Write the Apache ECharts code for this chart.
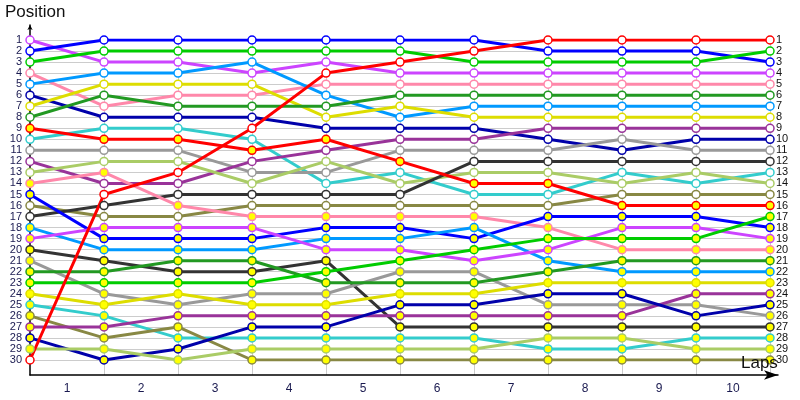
<!DOCTYPE html>
<html>
<head>
<meta charset="utf-8">
<script src="https://cdn.jsdelivr.net/npm/echarts@6/dist/echarts.min.js"></script>
<style>
html,body{margin:0;padding:0;background:#fff;}
#chart{width:800px;height:400px;}
</style>
</head>
<body>
<div id="chart"></div>
<script>
// Laps (x values) and lap labels
const laps = [0, 1, 2, 3, 4, 5, 6, 7, 8, 9, 10];
const lapLabels = ['1', '2', '3', '4', '5', '6', '7', '8', '9', '10'];

// Drivers, group A (white markers)
const violetA     = [1, 3, 3, 4, 3, 4, 4, 4, 4, 4, 4];
const blueA       = [2, 1, 1, 1, 1, 1, 1, 2, 2, 2, 3];
const greenA      = [3, 2, 2, 2, 2, 2, 3, 3, 3, 3, 2];
const pinkA       = [4, 7, 6, 6, 5, 5, 5, 5, 5, 5, 5];
const lightBlueA  = [5, 4, 4, 3, 6, 8, 7, 7, 7, 7, 7];
const navyA       = [6, 8, 8, 8, 9, 9, 9, 10, 11, 10, 10];
const yellowA     = [7, 5, 5, 5, 8, 7, 8, 8, 8, 8, 8];
const darkGreenA  = [8, 6, 7, 7, 7, 6, 6, 6, 6, 6, 6];
const cyanA       = [10, 9, 9, 10, 14, 13, 15, 15, 13, 14, 13];
const grayA       = [11, 11, 11, 13, 13, 11, 11, 11, 10, 11, 11];
const darkPurpleA = [12, 14, 14, 12, 11, 10, 10, 9, 9, 9, 9];
const lightGreenA = [13, 12, 12, 14, 12, 14, 13, 13, 14, 13, 14];
const oliveA      = [16, 17, 17, 16, 16, 16, 16, 16, 15, 15, 15];
const blackA      = [17, 16, 15, 15, 15, 15, 12, 12, 12, 12, 12];
const redA        = [30, 15, 13, 9, 4, 3, 2, 1, 1, 1, 1];

// Drivers, group B (yellow markers)
const redB        = [9, 10, 10, 11, 10, 12, 14, 14, 16, 16, 16];
const pinkB       = [14, 13, 16, 17, 17, 17, 17, 18, 20, 20, 20];
const blueB       = [15, 19, 19, 19, 18, 18, 19, 17, 17, 17, 18];
const lightBlueB  = [18, 20, 20, 20, 19, 19, 18, 21, 22, 22, 22];
const violetB     = [19, 18, 18, 18, 20, 20, 21, 20, 18, 18, 19];
const blackB      = [20, 21, 22, 22, 21, 27, 27, 27, 27, 27, 27];
const grayB       = [21, 24, 25, 24, 24, 22, 22, 25, 25, 25, 26];
const darkGreenB  = [22, 22, 21, 21, 23, 23, 23, 22, 21, 21, 21];
const greenB      = [23, 23, 23, 23, 22, 21, 20, 19, 19, 19, 17];
const yellowB     = [24, 25, 24, 25, 25, 24, 24, 23, 23, 23, 23];
const cyanB       = [25, 26, 28, 28, 28, 28, 28, 29, 29, 28, 28];
const oliveB      = [26, 28, 27, 30, 30, 30, 30, 30, 30, 30, 30];
const darkPurpleB = [27, 27, 26, 26, 26, 26, 26, 26, 26, 24, 24];
const navyB       = [28, 30, 29, 27, 27, 25, 25, 24, 24, 26, 25];
const lightGreenB = [29, 29, 30, 29, 29, 29, 29, 28, 28, 29, 29];

const C = {
  red: '#ff0000', blue: '#0000ff', green: '#00cc00', violet: '#cc44ff',
  pink: '#ff88aa', darkGreen: '#229922', lightBlue: '#0099ff', yellow: '#dddd00',
  darkPurple: '#993399', navy: '#0000aa', gray: '#999999', black: '#333333',
  lightGreen: '#aacc66', cyan: '#33cccc', olive: '#888844'
};
const WHITE = '#ffffff', YEL = '#ffff00';

const drivers = [
  [violetA, C.violet, WHITE], [blueA, C.blue, WHITE], [greenA, C.green, WHITE],
  [pinkA, C.pink, WHITE], [lightBlueA, C.lightBlue, WHITE], [navyA, C.navy, WHITE],
  [yellowA, C.yellow, WHITE], [darkGreenA, C.darkGreen, WHITE], [cyanA, C.cyan, WHITE],
  [grayA, C.gray, WHITE], [darkPurpleA, C.darkPurple, WHITE], [lightGreenA, C.lightGreen, WHITE],
  [oliveA, C.olive, WHITE], [blackA, C.black, WHITE],
  [redB, C.red, YEL], [pinkB, C.pink, YEL], [blueB, C.blue, YEL],
  [lightBlueB, C.lightBlue, YEL], [violetB, C.violet, YEL], [blackB, C.black, YEL],
  [grayB, C.gray, YEL], [darkGreenB, C.darkGreen, YEL], [greenB, C.green, YEL],
  [yellowB, C.yellow, YEL], [cyanB, C.cyan, YEL], [oliveB, C.olive, YEL],
  [darkPurpleB, C.darkPurple, YEL], [navyB, C.navy, YEL], [lightGreenB, C.lightGreen, YEL],
  [redA, C.red, WHITE]
];

const FONT = 'Liberation Sans';

const series = drivers.map(([vals, col, fill]) => ({
  type: 'line',
  xAxisIndex: 0,
  yAxisIndex: 0,
  data: laps.map((l, i) => [l, vals[i]]),
  symbol: 'circle',
  symbolSize: 8,
  showAllSymbol: true,
  lineStyle: { color: col, width: 3 },
  itemStyle: { color: fill, borderColor: col, borderWidth: 1.5 },
  emphasis: { disabled: true },
  animation: false
}));

const chart = echarts.init(document.getElementById('chart'), null, { renderer: 'canvas' });
chart.setOption({
  backgroundColor: '#ffffff',
  animation: false,
  textStyle: { fontFamily: FONT },
  title: [
    { text: 'Position', left: 5, top: 4, padding: 0,
      textStyle: { fontFamily: FONT, fontSize: 17, fontWeight: 'normal', color: '#111111' } },
    { text: 'Laps', left: 741, top: 355, padding: 0,
      textStyle: { fontFamily: FONT, fontSize: 17, fontWeight: 'normal', color: '#111111' } }
  ],
  grid: [
    { left: 30, right: 30, top: 40, bottom: 40, outerBoundsMode: 'none', containLabel: false },
    { left: 30, right: 22, top: 40, bottom: 25, outerBoundsMode: 'none', containLabel: false },
    { left: 30, right: 22, top: 25, bottom: 25, outerBoundsMode: 'none', containLabel: false }
  ],
  xAxis: [
    { gridIndex: 0, type: 'value', min: 0, max: 10, interval: 1,
      axisLine: { show: false }, axisTick: { show: false }, axisLabel: { show: false },
      splitLine: { show: false } },
    { gridIndex: 0, type: 'category', data: lapLabels, boundaryGap: true, position: 'bottom', offset: 15,
      axisLine: { show: false }, axisTick: { show: false },
      axisLabel: { show: true, margin: 8, fontSize: 12, color: '#1a1a50', fontFamily: FONT },
      splitLine: { show: false } },
    { gridIndex: 1, type: 'value', min: 0, max: 10.108, interval: 1,
      axisLine: { show: true, symbol: ['none', 'arrow'], symbolSize: [7, 14],
        lineStyle: { color: '#000000', width: 1.5 } },
      axisTick: { show: false }, axisLabel: { show: false },
      splitLine: { show: true, showMinLine: false, showMaxLine: false,
        lineStyle: { color: '#cccccc', width: 1 } } },
    { gridIndex: 2, type: 'value', show: false, min: 0, max: 1 }
  ],
  yAxis: [
    { gridIndex: 0, type: 'value', inverse: true, min: 1, max: 30, interval: 1, position: 'left',
      axisLine: { show: false }, axisTick: { show: false },
      axisLabel: { show: true, margin: 8, fontSize: 11, color: '#1a1a50', fontFamily: FONT },
      splitLine: { show: true, lineStyle: { color: '#cccccc', width: 1 } } },
    { gridIndex: 0, type: 'value', inverse: true, min: 1, max: 30, interval: 1, position: 'right',
      axisLine: { show: false }, axisTick: { show: false },
      axisLabel: { show: true, margin: 6, fontSize: 11, color: '#111111', fontFamily: FONT },
      splitLine: { show: false } },
    { gridIndex: 1, type: 'value', show: false, min: 0, max: 1 },
    { gridIndex: 2, type: 'value', min: 0, max: 1,
      axisLine: { show: true, symbol: ['none', 'arrow'], symbolSize: [4, 5],
        lineStyle: { color: '#000000', width: 1.5 } },
      axisTick: { show: false }, axisLabel: { show: false }, splitLine: { show: false } }
  ],
  series: series
});
</script>
</body>
</html>
